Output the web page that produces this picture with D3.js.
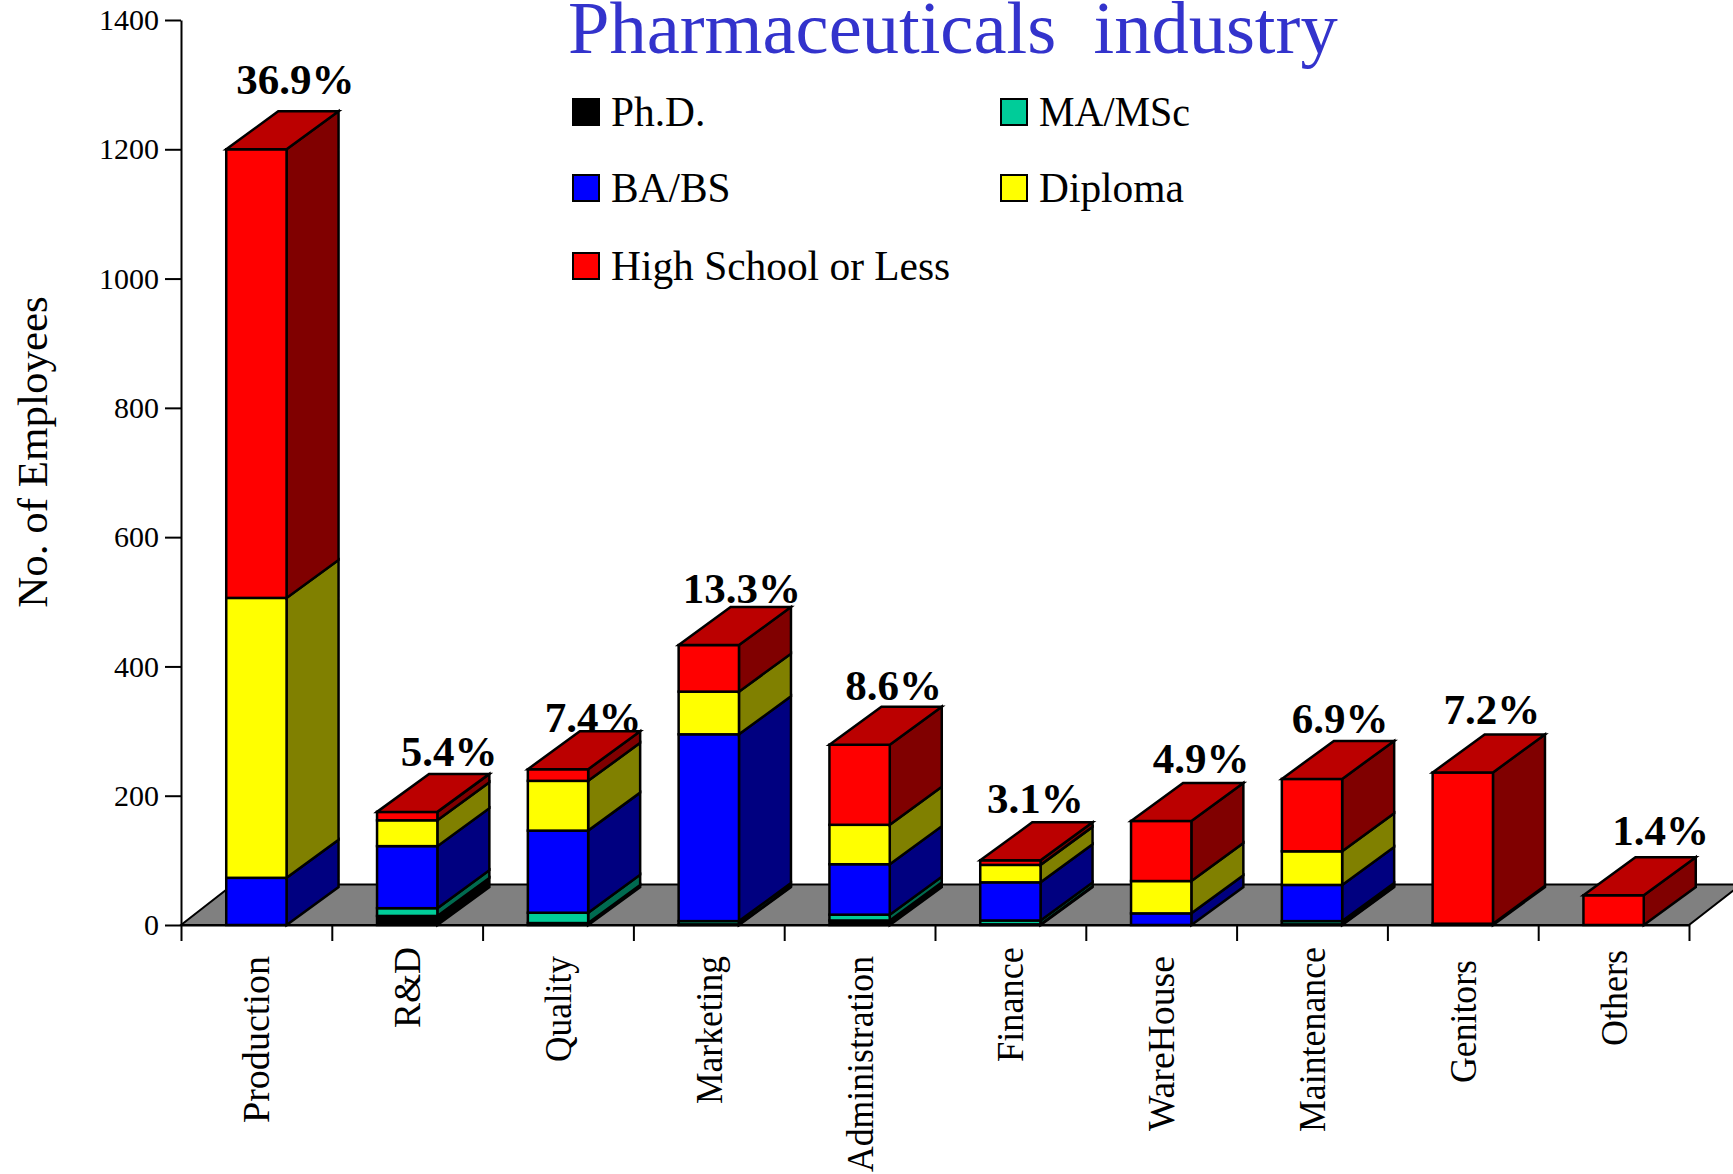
<!DOCTYPE html>
<html>
<head>
<meta charset="utf-8">
<script src="https://cdn.jsdelivr.net/npm/d3@7"></script>
<style>
body { margin: 0; background: #fff; }
svg { display: block; }
text { font-family: "Liberation Serif", serif; fill: #000; }
</style>
</head>
<body>
<div id="chart"></div>
<script>
// chart values
var departments = ["Production", "R&D", "Quality", "Marketing", "Administration", "Finance", "WareHouse", "Maintenance", "Genitors", "Others"];
var phd = [0, 14, 3, 1, 7, 1, 0, 1, 2, 0];
var maMsc = [0, 12, 16, 5, 9, 6, 0, 5, 0, 0];
var baBs = [73, 96, 127, 289, 78, 59, 18, 56, 0, 0];
var diploma = [433, 40, 77, 66, 61, 27, 50, 52, 0, 0];
var highSchool = [694, 13, 18, 72, 124, 7, 93, 112, 234, 46];
var shares = ["36.9%", "5.4%", "7.4%", "13.3%", "8.6%", "3.1%", "4.9%", "6.9%", "7.2%", "1.4%"];
var yTicks = [0, 200, 400, 600, 800, 1000, 1200, 1400];

var seriesNames = ["Ph.D.", "MA/MSc", "BA/BS", "Diploma", "High School or Less"];
var seriesValues = [phd, maMsc, baBs, diploma, highSchool];

// the percent labels and category names were placed by hand in the original
var labelDx = [39, 42, 35, 33, 34, 25, 40, 28, 29, 47];
var labelDy = [-15, -5, 3, -2, -4, -7, -7, -5, -8, -10];
var deptDy = [0, -9, 0, 0, 0, -9, 0, -9, 4, -6];
var deptLength = [167, 81, 106, 148, 216, 115, 175, 185, 123, 96];

var width = 1733,
height = 1174,
axis_x = 181,
axis_right = 1689,
axis_top = 20,
axis_bottom = 925,
depth_x = 52,
floor_depth_y = 40.5,
depth_y = 38;

var front_colors = ["#000000", "#00cc99", "#0000ff", "#ffff00", "#ff0000"],
side_colors = ["#000000", "#006b50", "#000080", "#808000", "#800000"],
top_color = "#bb0000";

var svg = d3.select("#chart").append("svg")
.attr("width", width)
.attr("height", height);

var y = d3.scaleLinear().domain([0, 1400]).range([axis_bottom, axis_top]);

var x = d3.scaleBand()
.domain(departments)
.range([axis_x, axis_right])
.paddingInner(0.6)
.paddingOuter(0.3);

// ticks sit between the bars, not under them
var xEdges = d3.scaleLinear().domain([0, departments.length]).range([axis_x, axis_right]);

// floor
svg.append("path")
.attr("d", "M" + axis_x + "," + axis_bottom
    + "L" + (axis_x + depth_x) + "," + (axis_bottom - floor_depth_y)
    + "L" + (axis_right + depth_x) + "," + (axis_bottom - floor_depth_y)
    + "L" + axis_right + "," + axis_bottom + "Z")
.attr("fill", "#808080")
.attr("stroke", "#000")
.attr("stroke-width", 2);

// axes
var yAxis = svg.append("g")
.attr("transform", "translate(" + axis_x + ",0)")
.call(d3.axisLeft(y).tickValues(yTicks).tickSize(16).tickSizeOuter(0).tickPadding(6).tickFormat(d3.format("d")));

var xAxis = svg.append("g")
.attr("transform", "translate(0," + axis_bottom + ")")
.call(d3.axisBottom(xEdges).ticks(departments.length).tickSize(16).tickSizeOuter(0).tickFormat(""));

svg.selectAll("g .domain, g .tick line")
.attr("stroke", "#000")
.attr("stroke-width", 2);

yAxis.selectAll("text")
.style("font-family", '"Liberation Serif", serif')
.style("font-size", "30px")
.attr("fill", "#000");

svg.append("text")
.attr("transform", "translate(46.5,452) rotate(-90)")
.attr("text-anchor", "middle")
.style("font-size", "43px")
.text("No. of Employees");

svg.selectAll("text.dept")
.data(departments)
.enter().append("text")
.attr("class", "dept")
.attr("text-anchor", "end")
.attr("transform", function(d, i) {
    return "translate(" + (x(d) + x.bandwidth() / 2 + 13) + "," + (956 + deptDy[i]) + ") rotate(-90)";
})
.attr("textLength", function(d, i) { return deptLength[i]; })
.attr("lengthAdjust", "spacingAndGlyphs")
.style("font-size", "38px")
.text(function(d) { return d; });

// title
svg.append("text")
.attr("x", 568)
.attr("y", 53)
.attr("xml:space", "preserve")
.style("white-space", "pre")
.style("font-size", "74.5px")
.style("fill", "#3333cc")
.text("Pharmaceuticals  industry");

// legend
var legendX = [573, 1001, 573, 1001, 573],
legendY = [99, 99, 175, 175, 253];

seriesNames.forEach(function(name, i) {
    svg.append("rect")
    .attr("x", legendX[i])
    .attr("y", legendY[i])
    .attr("width", 26)
    .attr("height", 26)
    .attr("fill", front_colors[i])
    .attr("stroke", "#000")
    .attr("stroke-width", 2);

    var label = svg.append("text")
    .attr("x", legendX[i] + 38)
    .attr("y", legendY[i] + 27)
    .style("font-size", "41.4px")
    .text(name);

    // MA/MSc is set tighter than the other entries
    if (name === "MA/MSc") {
        label.attr("textLength", 151).attr("lengthAdjust", "spacingAndGlyphs");
    }
});

var totals = departments.map(function(d, i) {
    return d3.sum(seriesValues, function(s) { return s[i]; });
});

// percent labels go first: the bars cover them where they overlap
svg.selectAll("text.share")
.data(shares)
.enter().append("text")
.attr("class", "share")
.attr("text-anchor", "middle")
.attr("x", function(d, i) { return x(departments[i]) + x.bandwidth() / 2 + labelDx[i]; })
.attr("y", function(d, i) { return y(totals[i]) - floor_depth_y + labelDy[i]; })
.style("font-size", "43px")
.style("font-weight", "bold")
.text(function(d) { return d; });

// bars
var stackData = departments.map(function(d, i) {
    var row = {dept: d};
    seriesNames.forEach(function(name, j) { row[name] = seriesValues[j][i]; });
    return row;
});

var stacked = d3.stack().keys(seriesNames)(stackData);

function sidePath(d) {
    var x1 = x(d.data.dept) + x.bandwidth(),
    y0 = y(d[0]),
    y1 = y(d[1]);
    return "M" + x1 + "," + y0
        + "L" + x1 + "," + y1
        + "L" + (x1 + depth_x) + "," + (y1 - depth_y)
        + "L" + (x1 + depth_x) + "," + (y0 - depth_y) + "Z";
}

function topPath(dept, total) {
    var x0 = x(dept),
    x1 = x0 + x.bandwidth(),
    yt = y(total);
    return "M" + x0 + "," + yt
        + "L" + (x0 + depth_x) + "," + (yt - depth_y)
        + "L" + (x1 + depth_x) + "," + (yt - depth_y)
        + "L" + x1 + "," + yt + "Z";
}

departments.forEach(function(dept, i) {
    var bar = svg.append("g").attr("class", "bar");

    stacked.forEach(function(layer, j) {
        var d = layer[i];
        if (d[1] - d[0] <= 0) return;

        bar.append("path")
        .attr("d", sidePath(d))
        .attr("fill", side_colors[j])
        .attr("stroke", "#000")
        .attr("stroke-width", 2.5);

        bar.append("rect")
        .attr("x", x(dept))
        .attr("y", y(d[1]))
        .attr("width", x.bandwidth())
        .attr("height", y(d[0]) - y(d[1]))
        .attr("fill", front_colors[j])
        .attr("stroke", "#000")
        .attr("stroke-width", 2.5);
    });

    bar.append("path")
    .attr("d", topPath(dept, totals[i]))
    .attr("fill", top_color)
    .attr("stroke", "#000")
    .attr("stroke-width", 2.5);
});
</script>
</body>
</html>
